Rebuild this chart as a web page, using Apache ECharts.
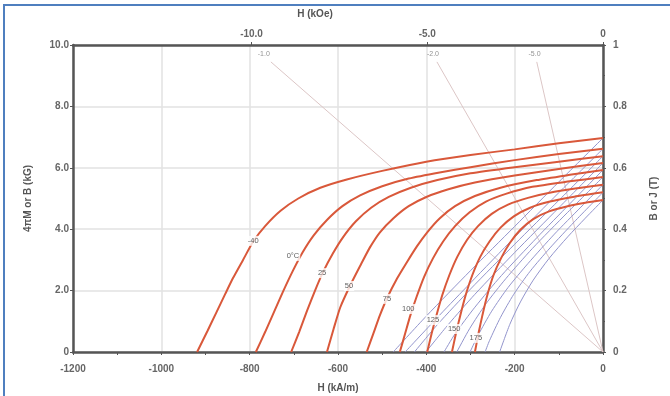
<!DOCTYPE html>
<html>
<head>
<meta charset="utf-8">
<title>Demagnetization curves</title>
<script src="https://cdn.jsdelivr.net/npm/echarts@6/dist/echarts.min.js"></script>
<style>
  html, body { margin: 0; padding: 0; background: #fff; }
  #main { width: 670px; height: 396px; }
</style>
</head>
<body>
<div id="main"></div>
<script type="text/javascript">
// temperatures (one red 4πM curve and one blue B curve each)
var tempNames = ['-40', '0°C', '25', '50', '75', '100', '125', '150', '175'];

// intrinsic curves, [H (kA/m), 4πM (kG)]
var jCurves = [
  [[-919,0],[-895,0.7],[-875,1.3],[-855,1.9],[-838,2.4],[-815,3.0],[-792,3.6],[-765,4.1],[-730,4.6],[-690,5.0],[-640,5.35],[-580,5.62],[-500,5.9],[-400,6.2],[-300,6.42],[-200,6.6],[-100,6.8],[0,6.97]],
  [[-786,0],[-765,0.65],[-745,1.3],[-725,1.95],[-702,2.65],[-680,3.25],[-655,3.8],[-625,4.3],[-590,4.75],[-550,5.1],[-500,5.4],[-440,5.65],[-370,5.85],[-300,6.02],[-200,6.25],[-100,6.45],[0,6.62]],
  [[-706,0],[-688,0.65],[-670,1.35],[-652,2.0],[-634,2.6],[-612,3.2],[-588,3.75],[-560,4.25],[-525,4.7],[-485,5.05],[-435,5.35],[-375,5.6],[-300,5.82],[-200,6.02],[-100,6.2],[0,6.38]],
  [[-625,0],[-610,0.75],[-595,1.45],[-573,2.15],[-550,2.8],[-528,3.4],[-505,3.9],[-475,4.35],[-440,4.75],[-400,5.05],[-350,5.3],[-290,5.52],[-200,5.75],[-100,5.96],[0,6.16]],
  [[-535,0],[-520,0.6],[-505,1.2],[-489,1.75],[-466,2.4],[-443,2.95],[-421,3.45],[-398,3.9],[-370,4.35],[-335,4.75],[-290,5.08],[-230,5.36],[-150,5.6],[-75,5.77],[0,5.93]],
  [[-460,0],[-448,0.6],[-436,1.2],[-422,1.8],[-405,2.45],[-385,3.05],[-362,3.6],[-335,4.1],[-302,4.55],[-265,4.9],[-220,5.15],[-160,5.38],[-80,5.55],[0,5.7]],
  [[-398,0],[-388,0.6],[-377,1.2],[-364,1.85],[-348,2.5],[-330,3.1],[-308,3.65],[-283,4.1],[-252,4.5],[-215,4.8],[-170,5.02],[-110,5.22],[-50,5.35],[0,5.45]],
  [[-342,0],[-333,0.6],[-323,1.2],[-311,1.85],[-296,2.5],[-278,3.1],[-257,3.6],[-232,4.05],[-202,4.42],[-165,4.7],[-120,4.9],[-65,5.06],[0,5.2]],
  [[-290,0],[-282,0.6],[-273,1.2],[-262,1.85],[-248,2.5],[-231,3.05],[-211,3.55],[-187,3.98],[-158,4.33],[-122,4.58],[-80,4.75],[-40,4.86],[0,4.95]]
];

// normal curves, [H (kA/m), B (kG)]
var bCurves = [
  [[-475,0],[-400,1.17],[-300,2.65],[-200,4.09],[-100,5.54],[0,6.97]],
  [[-448,0],[-370,1.2],[-300,2.25],[-200,3.74],[-100,5.19],[0,6.62]],
  [[-427,0],[-375,0.89],[-300,2.05],[-200,3.51],[-100,4.94],[0,6.38]],
  [[-401,0],[-350,0.9],[-290,1.88],[-200,3.24],[-100,4.7],[0,6.16]],
  [[-360,0],[-335,0.59],[-290,1.46],[-230,2.49],[-150,3.72],[-75,4.83],[0,5.93]],
  [[-331,0],[-302,0.76],[-265,1.57],[-220,2.39],[-160,3.37],[-80,4.55],[0,5.7]],
  [[-301,0],[-283,0.54],[-252,1.33],[-215,2.1],[-170,2.88],[-110,3.84],[-50,4.72],[0,5.45]],
  [[-267,0],[-257,0.37],[-232,1.13],[-202,1.88],[-165,2.63],[-120,3.39],[-65,4.24],[0,5.2]],
  [[-234,0],[-211,0.9],[-187,1.63],[-158,2.34],[-122,3.05],[-80,3.75],[-40,4.36],[0,4.95]]
];

// where each temperature label sits on its curve
var tempLabelAt = [[-792,3.62],[-702,3.13],[-636,2.57],[-575,2.15],[-489,1.73],[-441,1.40],[-385,1.04],[-337,0.75],[-288,0.46]];

// permeance (load) lines
var loadNames = ['-1.0', '-2.0', '-5.0'];
var loadLines = [
  [[-752,9.45],[0,0]],
  [[-376,9.45],[0,0]],
  [[-150,9.45],[0,0]]
];
var loadLabelAt = [[-768,9.72],[-385,9.72],[-155,9.72]];

var topTicks = [-10, -5, 0];

var myChart = echarts.init(document.getElementById('main'));

var axisColor = '#555';
var labelStyle = { color: '#666', fontSize: 10, fontWeight: 'bold', fontFamily: 'Liberation Sans, Arial, sans-serif' };
var nameStyle = { color: '#555', fontSize: 10, fontWeight: 'bold', fontFamily: 'Liberation Sans, Arial, sans-serif' };

var series = [];
loadLines.forEach(function (d, i) {
  series.push({
    name: 'load ' + loadNames[i], type: 'line', data: d, symbol: 'none', silent: true,
    lineStyle: { color: '#dcc6c6', width: 1 }, z: 1
  });
});
bCurves.forEach(function (d, i) {
  series.push({
    name: 'B ' + tempNames[i], type: 'line', data: d, symbol: 'none', smooth: 0.25, silent: true,
    lineStyle: { color: '#9294cc', width: 1 }, z: 2
  });
});
jCurves.forEach(function (d, i) {
  series.push({
    name: 'J ' + tempNames[i], type: 'line', data: d, symbol: 'none', smooth: 0.2, silent: true,
    lineStyle: { color: '#d9583a', width: 2 }, z: 3
  });
});
series.push({
  name: 'temp labels', type: 'scatter', symbolSize: 0, silent: true, z: 10,
  data: tempLabelAt.map(function (p, i) { return { value: p, name: tempNames[i] }; }),
  label: {
    show: true, position: 'inside', formatter: '{b}', color: '#333', fontSize: 7.5,
    backgroundColor: '#fff', padding: [1, 1], fontFamily: 'Liberation Sans, Arial, sans-serif'
  }
});
series.push({
  name: 'load labels', type: 'scatter', symbolSize: 0, silent: true, z: 10,
  data: loadLabelAt.map(function (p, i) { return { value: p, name: loadNames[i] }; }),
  label: { show: true, position: 'inside', formatter: '{b}', color: '#777', fontSize: 7 }
});

var option = {
  animation: false,
  backgroundColor: '#fff',
  grid: { left: 73, right: 67, top: 45, bottom: 44, containLabel: false, outerBoundsMode: 'none' },
  xAxis: [{
    type: 'value', position: 'bottom', min: -1200, max: 0, interval: 200,
    name: 'H (kA/m)', nameLocation: 'middle', nameGap: 31, nameTextStyle: nameStyle,
    axisLine: { show: true, onZero: false, lineStyle: { color: axisColor, width: 2.5 } },
    axisTick: { show: true, length: 3, lineStyle: { color: axisColor } },
    minorTick: { show: true, splitNumber: 2, length: 3, lineStyle: { color: axisColor } },
    axisLabel: Object.assign({ margin: 12, formatter: function (v) { return String(v); } }, labelStyle),
    splitLine: { show: true, lineStyle: { color: '#e2e2e2', width: 1.5 } }
  }, {
    type: 'value', position: 'top', min: -15.0796, max: 0,
    name: 'H (kOe)', nameLocation: 'middle', nameGap: 26,
    nameTextStyle: Object.assign({ padding: [0, 46, 0, 0] }, nameStyle),
    axisLine: { show: true, onZero: false, lineStyle: { color: axisColor, width: 2.5 } },
    axisTick: { show: true, length: 3, customValues: topTicks, lineStyle: { color: axisColor } },
    axisLabel: Object.assign({
      margin: 6, customValues: topTicks,
      formatter: function (v) { return v === 0 ? '0' : v.toFixed(1); }
    }, labelStyle),
    splitLine: { show: false }
  }],
  yAxis: [{
    type: 'value', position: 'left', min: 0, max: 10, interval: 2,
    name: '4πM or B (kG)', nameLocation: 'middle', nameGap: 40, nameRotate: 90, nameTextStyle: nameStyle,
    axisLine: { show: true, onZero: false, lineStyle: { color: axisColor, width: 2.5 } },
    axisTick: { show: true, length: 3, lineStyle: { color: axisColor } },
    axisLabel: Object.assign({
      margin: 4,
      formatter: function (v) { return v === 0 ? '0' : v.toFixed(1); }
    }, labelStyle),
    splitLine: { show: true, lineStyle: { color: '#e2e2e2', width: 1.5 } }
  }, {
    type: 'value', position: 'right', min: 0, max: 1, interval: 0.2,
    name: 'B or J (T)', nameLocation: 'middle', nameGap: 46, nameRotate: 90, nameTextStyle: nameStyle,
    axisLine: { show: true, onZero: false, lineStyle: { color: axisColor, width: 2.5 } },
    axisTick: { show: true, length: 3, lineStyle: { color: axisColor } },
    minorTick: { show: true, splitNumber: 2, length: 2, lineStyle: { color: axisColor } },
    axisLabel: Object.assign({
      margin: 10,
      formatter: function (v) { return (v === 0 || v === 1) ? String(v) : v.toFixed(1); }
    }, labelStyle),
    splitLine: { show: false }
  }],
  graphic: [{
    type: 'rect', silent: true, z: 100,
    shape: { x: 4, y: 5, width: 700, height: 420 },
    style: { fill: 'none', stroke: '#4f7fbf', lineWidth: 2 }
  }],
  series: series
};

myChart.setOption(option);
</script>
</body>
</html>
